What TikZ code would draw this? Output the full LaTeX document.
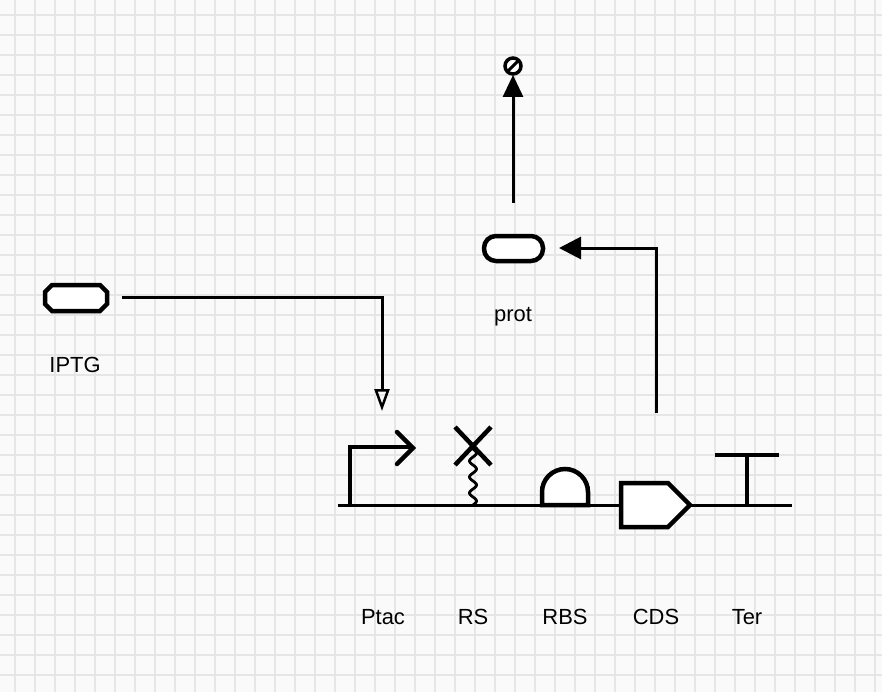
\documentclass[tikz,border=0pt]{standalone}
\usepackage{fontspec}
\setmainfont{Liberation Sans}
\usetikzlibrary{arrows.meta}
\begin{document}
\begin{tikzpicture}[x=1bp,y=-1bp,
  glyph/.style={line width=4.5bp,line join=miter},
  wire/.style={line width=3bp},
  lbl/.style={font=\fontsize{22}{26}\selectfont}]
\useasboundingbox (0,0) rectangle (882,692);
\fill[fill={rgb,255:red,250;green,250;blue,250}] (0,0) rectangle (882,692);
\foreach \i in {0,...,44} \draw[line width=2bp,color={rgb,255:red,230;green,230;blue,230}] (15+20*\i,0) -- (15+20*\i,692);
\foreach \i in {0,...,34} \draw[line width=2bp,color={rgb,255:red,230;green,230;blue,230}] (0,15+20*\i) -- (882,15+20*\i);
% IPTG
\draw[glyph,fill=white] (52,285) -- (100,285) -- (107,292) -- (107,304) -- (100,311) -- (52,311) -- (45,304) -- (45,292) -- cycle;
\node[lbl] (iptg) at (75,365) {IPTG};
\coordinate (a1) at (122,297);
\coordinate (a2) at (382,411);
\draw[wire,-{Triangle[open,length=22bp,width=15bp,line width=2.5bp]}] (a1) -| (a2);
% backbone
\coordinate (b0) at (338,505); \coordinate (b1) at (792,505);
\draw[wire] (b0) -- (b1);
% promoter
\draw[glyph] (350,506) -- (350,447) -- (413,447);
\draw[glyph,line cap=round] (397,432) -- (413,448) -- (397,464);
% RS
\draw[line width=2.8bp] plot[domain=0:58,samples=80,smooth] ({473+3.5*sin(\x*22.5)},{505-\x});
\draw[glyph] (455,427) -- (491,465) (491,427) -- (455,465);
% RBS
\draw[glyph,fill=white] (542,505) -- (542,492) arc[start angle=180,end angle=360,radius=23] -- (588,505) -- cycle;
% CDS
\draw[glyph,fill=white] (621,483) -- (668,483) -- (690,505) -- (668,527) -- (621,527) -- cycle;
% Ter
\draw[glyph] (747,505) -- (747,455) (715,455) -- (779,455);
% prot
\draw[glyph,fill=white,rounded corners=12bp] (484,236) rectangle (543,261);
\node[lbl] (prot) at (513,317) {prot};
\coordinate (c1) at (656,413);
\coordinate (c2) at (559,248);
\draw[wire,-{Triangle[length=22bp,width=22bp]}] (c1) |- (c2);
\coordinate (d1) at (513,203);
\coordinate (d2) at (513,75);
\draw[wire,-{Triangle[length=22bp,width=20bp]}] (d1) -- (d2);
\draw[line width=3.5bp,fill=white] (513,66) circle (8bp);
\draw[line width=3bp] (508,71) -- (518,61);
% labels
\node[lbl] (l1) at (383,617) {Ptac};
\node[lbl] (l2) at (473,617) {RS};
\node[lbl] (l3) at (565,617) {RBS};
\node[lbl] (l4) at (656,617) {CDS};
\node[lbl] (l5) at (747,617) {Ter};
\end{tikzpicture}
\end{document}
